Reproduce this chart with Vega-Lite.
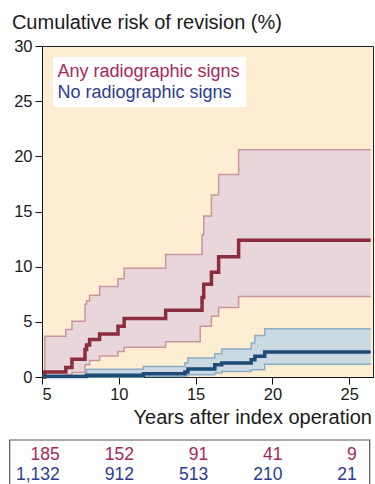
{
  "$schema": "https://vega.github.io/schema/vega-lite/v6.json",
  "width": 331,
  "height": 331,
  "autosize": {"type": "none"},
  "padding": {"left": 42, "top": 46, "right": 2, "bottom": 107},
  "background": "white",
  "config": {
    "font": "Liberation Sans",
    "view": {"fill": "#fdeed3", "stroke": "#222222", "strokeWidth": 1},
    "axis": {
      "domainColor": "#111111",
      "tickColor": "#111111",
      "labelColor": "#1a1a1a",
      "labelFontSize": 16.5,
      "tickSize": 7,
      "grid": false,
      "titleFontWeight": "normal",
      "titleColor": "#1a1a1a",
      "titleFontSize": 20,
      "titleAngle": 0,
      "titleBaseline": "alphabetic"
    },
    "axisX": {"labelPadding": 2, "titleX": 329.4, "titleY": 46, "titleAlign": "right", "titleAnchor": "end"},
    "axisY": {"labelPadding": 3, "titleX": -30.6, "titleY": -17.7, "titleAlign": "left", "titleAnchor": "start"}
  },
  "datasets": {
    "km": [
      {"group": "Any radiographic signs", "year": 5, "est": 0, "lo": 0, "hi": 0},
      {"group": "Any radiographic signs", "year": 5.18, "est": 0.45, "lo": 0, "hi": 3.7},
      {"group": "Any radiographic signs", "year": 6.55, "est": 0.87, "lo": 0.2, "hi": 4.3},
      {"group": "Any radiographic signs", "year": 6.95, "est": 1.6, "lo": 0.4, "hi": 5.05},
      {"group": "Any radiographic signs", "year": 7.8, "est": 2.5, "lo": 1.1, "hi": 6.6},
      {"group": "Any radiographic signs", "year": 7.9, "est": 2.9, "lo": 1.1, "hi": 6.9},
      {"group": "Any radiographic signs", "year": 8.1, "est": 3.4, "lo": 1.5, "hi": 7.4},
      {"group": "Any radiographic signs", "year": 8.75, "est": 3.9, "lo": 1.9, "hi": 8.2},
      {"group": "Any radiographic signs", "year": 9.95, "est": 4.6, "lo": 2.3, "hi": 8.9},
      {"group": "Any radiographic signs", "year": 10.35, "est": 5.3, "lo": 2.7, "hi": 9.85},
      {"group": "Any radiographic signs", "year": 13.05, "est": 6.05, "lo": 3.2, "hi": 11.1},
      {"group": "Any radiographic signs", "year": 15.3, "est": 6.05, "lo": 4.6, "hi": 11.1},
      {"group": "Any radiographic signs", "year": 15.42, "est": 7.2, "lo": 4.6, "hi": 12.9},
      {"group": "Any radiographic signs", "year": 15.53, "est": 8.4, "lo": 4.6, "hi": 14.6},
      {"group": "Any radiographic signs", "year": 16.03, "est": 9.5, "lo": 5.5, "hi": 16.5},
      {"group": "Any radiographic signs", "year": 16.5, "est": 10.9, "lo": 6.3, "hi": 18.35},
      {"group": "Any radiographic signs", "year": 17.8, "est": 12.4, "lo": 7.3, "hi": 20.6},
      {"group": "Any radiographic signs", "year": 26.4, "est": 12.4, "lo": 7.3, "hi": 20.6},
      {"group": "No radiographic signs", "year": 5, "est": 0.05, "lo": 0, "hi": 0.15},
      {"group": "No radiographic signs", "year": 7.9, "est": 0.15, "lo": 0, "hi": 0.7},
      {"group": "No radiographic signs", "year": 11.6, "est": 0.3, "lo": 0.05, "hi": 0.95},
      {"group": "No radiographic signs", "year": 14.3, "est": 0.45, "lo": 0.12, "hi": 1.3},
      {"group": "No radiographic signs", "year": 14.5, "est": 0.72, "lo": 0.2, "hi": 1.72},
      {"group": "No radiographic signs", "year": 16.25, "est": 1.1, "lo": 0.36, "hi": 2.1},
      {"group": "No radiographic signs", "year": 16.7, "est": 1.27, "lo": 0.5, "hi": 2.54},
      {"group": "No radiographic signs", "year": 18.62, "est": 1.57, "lo": 0.66, "hi": 3.08},
      {"group": "No radiographic signs", "year": 18.86, "est": 1.87, "lo": 0.66, "hi": 3.77},
      {"group": "No radiographic signs", "year": 19.5, "est": 2.27, "lo": 1.15, "hi": 4.38},
      {"group": "No radiographic signs", "year": 26.4, "est": 2.27, "lo": 1.15, "hi": 4.38}
    ],
    "risk": [
      {"group": "Any radiographic signs", "year": 5, "n": 185},
      {"group": "Any radiographic signs", "year": 10, "n": 152},
      {"group": "Any radiographic signs", "year": 15, "n": 91},
      {"group": "Any radiographic signs", "year": 20, "n": 41},
      {"group": "Any radiographic signs", "year": 25, "n": 9},
      {"group": "No radiographic signs", "year": 5, "n": 1132},
      {"group": "No radiographic signs", "year": 10, "n": 912},
      {"group": "No radiographic signs", "year": 15, "n": 513},
      {"group": "No radiographic signs", "year": 20, "n": 210},
      {"group": "No radiographic signs", "year": 25, "n": 21}
    ]
  },
  "layer": [
    {
      "data": {"name": "km"},
      "encoding": {
        "x": {
          "field": "year",
          "type": "quantitative",
          "title": "Years after index operation",
          "scale": {"domain": [5, 26.55], "nice": false, "zero": false},
          "axis": {"values": [5, 10, 15, 20, 25]}
        }
      },
      "layer": [
        {
          "mark": {"type": "area", "interpolate": "step-after"},
          "encoding": {
            "y": {
              "field": "lo",
              "type": "quantitative",
              "title": "Cumulative risk of revision (%)",
              "scale": {"domain": [0, 30], "nice": false},
              "axis": {"values": [0, 5, 10, 15, 20, 25, 30]}
            },
            "y2": {"field": "hi"},
            "detail": {"field": "group"},
            "fill": {
              "condition": {"test": "datum.group === 'Any radiographic signs'", "value": "#e8d6da"},
              "value": "#cbd9e3"
            }
          }
        },
        {
          "mark": {"type": "line", "interpolate": "step-after", "strokeWidth": 1.5},
          "encoding": {
            "y": {"field": "hi", "type": "quantitative", "title": "Cumulative risk of revision (%)"},
            "detail": {"field": "group"},
            "color": {
              "condition": {"test": "datum.group === 'Any radiographic signs'", "value": "#c9959f"},
              "value": "#8aadc6"
            }
          }
        },
        {
          "mark": {"type": "line", "interpolate": "step-after", "strokeWidth": 1.5},
          "encoding": {
            "y": {"field": "lo", "type": "quantitative", "title": "Cumulative risk of revision (%)"},
            "detail": {"field": "group"},
            "color": {
              "condition": {"test": "datum.group === 'Any radiographic signs'", "value": "#c9959f"},
              "value": "#8aadc6"
            }
          }
        },
        {
          "mark": {"type": "line", "interpolate": "step-after", "strokeWidth": 3.5},
          "encoding": {
            "y": {"field": "est", "type": "quantitative", "title": "Cumulative risk of revision (%)"},
            "color": {
              "field": "group",
              "type": "nominal",
              "scale": {
                "domain": ["Any radiographic signs", "No radiographic signs"],
                "range": ["#8b2d3c", "#1d4c78"]
              },
              "legend": {
                "orient": "none",
                "legendX": 11,
                "legendY": 11,
                "title": null,
                "fillColor": "white",
                "padding": 5.5,
                "symbolSize": 0,
                "symbolOpacity": 0,
                "symbolStrokeWidth": 0,
                "labelOffset": -19,
                "labelFontSize": 18,
                "rowPadding": 3,
                "labelLimit": 400,
                "encode": {
                  "labels": {
                    "update": {
                      "fill": {"signal": "datum.label === 'Any radiographic signs' ? '#a5285f' : '#2d3b90'"}
                    }
                  }
                }
              }
            }
          }
        }
      ]
    },
    {
      "data": {"name": "risk"},
      "mark": {"type": "text", "align": "right", "baseline": "alphabetic", "fontSize": 17.5},
      "encoding": {
        "x": {
          "field": "year",
          "type": "quantitative",
          "scale": {"domain": [5, 25], "range": [17.7, 314.7]},
          "axis": null
        },
        "y": {
          "field": "group",
          "type": "nominal",
          "scale": {"type": "point", "domain": ["Any radiographic signs", "No radiographic signs"], "range": [414, 434], "padding": 0},
          "axis": null
        },
        "text": {"field": "n", "type": "quantitative", "format": ","},
        "color": {
          "condition": {"test": "datum.group === 'Any radiographic signs'", "value": "#a5285f"},
          "value": "#2d3b90"
        }
      }
    },
    {
      "data": {"values": [{}]},
      "mark": {"type": "rect", "filled": false, "stroke": "#555555", "strokeWidth": 1.2},
      "encoding": {
        "x": {"datum": 0, "type": "quantitative", "scale": {"domain": [0, 1], "range": [-32.3, 327.7]}, "axis": null},
        "x2": {"datum": 1},
        "y": {"datum": 0, "type": "quantitative", "scale": {"domain": [0, 1], "range": [394, 446]}, "axis": null},
        "y2": {"datum": 1}
      }
    }
  ],
  "resolve": {"scale": {"x": "independent", "y": "independent"}}
}
